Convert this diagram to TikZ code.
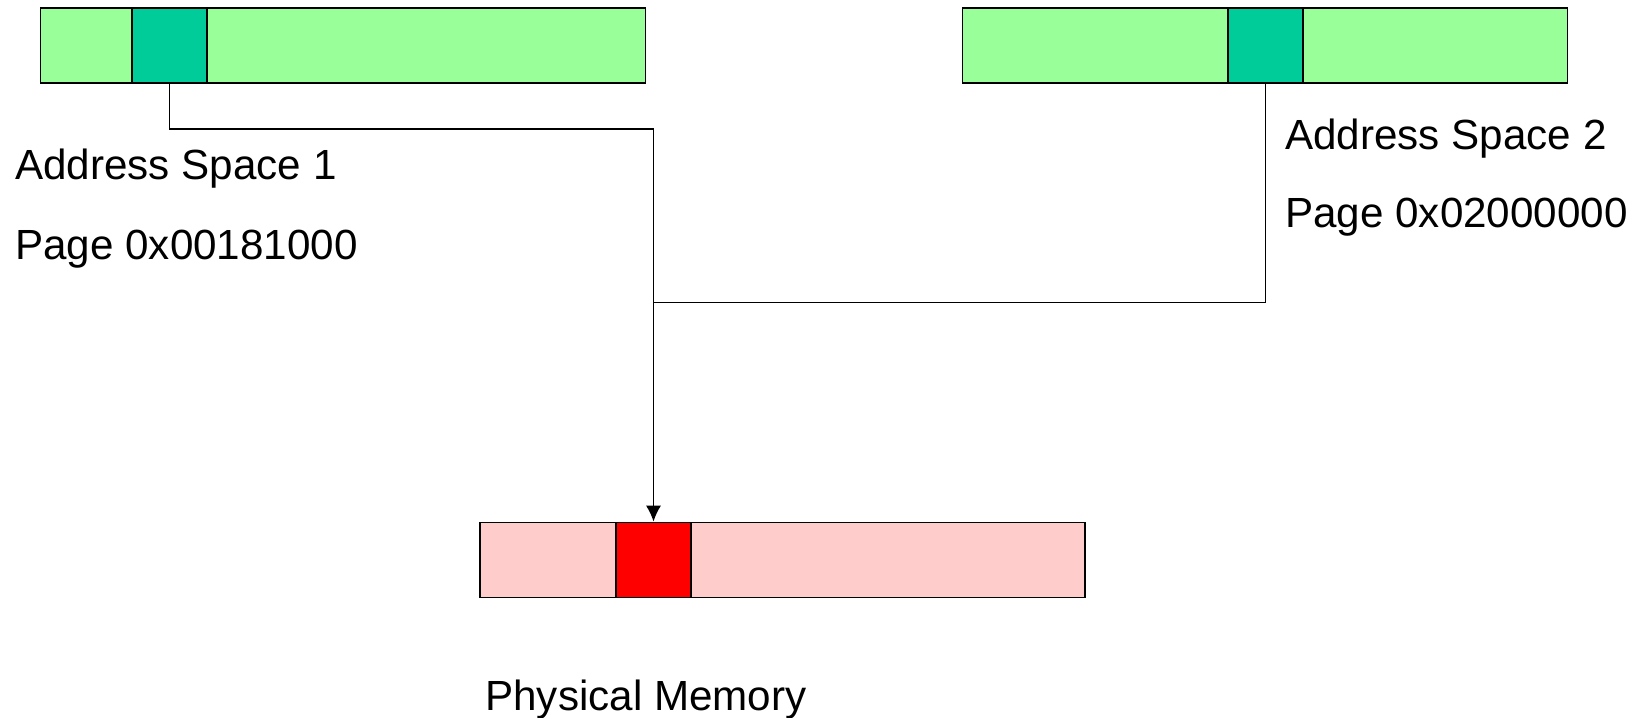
\documentclass[tikz,border=0pt]{standalone}
\usepackage{fontspec}
\setmainfont{Liberation Sans}
\usetikzlibrary{positioning,arrows.meta}

\definecolor{virtbg}{HTML}{99FF99}
\definecolor{virtpage}{HTML}{00CC99}
\definecolor{physbg}{HTML}{FFCCCC}
\definecolor{physpage}{HTML}{FF0000}

\tikzset{
  membar/.style={draw,line width=1.1pt,minimum width=12.1cm,minimum height=1.5cm,inner sep=0pt},
  mempage/.style={draw,line width=1.1pt,minimum width=1.5cm,minimum height=1.5cm,inner sep=0pt},
  caption/.style={anchor=base west,inner sep=0pt,font=\fontsize{24}{28}\selectfont},
}

\begin{document}
\begin{tikzpicture}[x=1cm]

          \useasboundingbox (0,0) rectangle (32.8,14.34);

          % two virtual address spaces
          \node[membar,fill=virtbg] (as1) at (6.86,13.43) {};
          \node[mempage,fill=virtpage] (pg1) at (3.39,13.43) {};
          \node[membar,fill=virtbg] (as2) at (25.30,13.43) {};
          \node[mempage,fill=virtpage] (pg2) at (25.31,13.43) {};

          % physical memory
          \node[membar,fill=physbg] (pm) at (15.65,3.14) {};
          \node[mempage,fill=physpage] (frame) at (13.07,3.14) {};

          \node[caption] (as1name) at (0.3,10.74) {Address Space 1};
          \node[caption] (as1page) at (0.3,9.15) {Page 0x00181000};
          \node[caption] (as2name) at (25.7,11.34) {Address Space 2};
          \node[caption] (as2page) at (25.7,9.78) {Page 0x02000000};
          \node[caption] (pmname) at (9.7,0.14) {Physical Memory};

          % both pages map to the same frame
          \coordinate (merge) at (13.07,8.29);
          \draw[->,line width=0.8pt,>={Latex[length=9pt,width=8.5pt]}]
              (pg1.south) -- ++(0,-0.9) -| (frame.north);
          \draw[line width=0.8pt] (pg2.south) |- (merge);

      \end{tikzpicture}
\end{document}
